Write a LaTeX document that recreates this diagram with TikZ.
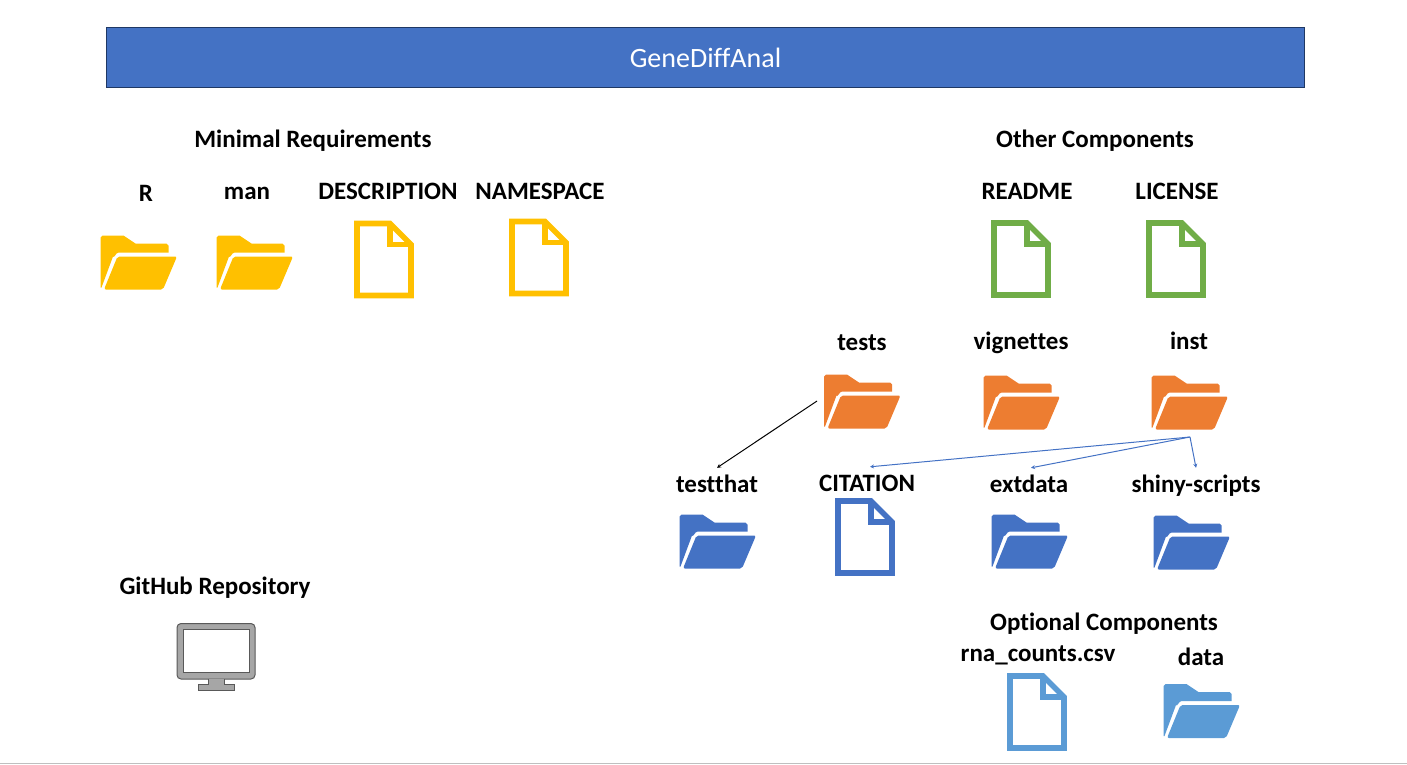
\documentclass[tikz,border=0pt]{standalone}
\usepackage{fontspec}
\setmainfont[Ligatures=NoCommon]{Carlito}
\definecolor{barblue}{HTML}{4472C4}
\definecolor{barline}{HTML}{1F3864}
\definecolor{minyellow}{HTML}{FFC000}
\definecolor{othergreen}{HTML}{70AD47}
\definecolor{otherorange}{HTML}{ED7D31}
\definecolor{optblue}{HTML}{5B9BD5}
\tikzset{
    itemtext/.style={font=\fontsize{25}{30}\selectfont\bfseries, inner xsep=0pt, inner ysep=10.5pt, text height=15pt, text depth=0pt},
    linkarrow/.style={-{Stealth[length=4pt, width=4pt]}, line width=1pt},
    folder/.pic={
        \fill[pic actions] (0,52) -- (0,2) to[out=-90, in=180] (2,0) -- (23,0) -- (35,8) -- (66,8)
            to[out=0, in=-90] (68,10) -- (68,17) -- (18,17) to[out=180, in=-70] (12.5,21) -- (1,52) -- cycle;
        \fill[pic actions, rounded corners=2pt] (17,21) -- (76.5,21) -- (62.5,54) -- (3.5,54) -- cycle;
    },
    docfile/.pic={
        \draw[pic actions, line width=5.6pt, miter limit=10] (3,3) -- (36,3) -- (57,24) -- (57,75) -- (3,75) -- cycle;
        \draw[pic actions, line width=5.6pt] (36,3) -- (36,24) -- (57,24);
    },
}
\usetikzlibrary{arrows.meta}
\begin{document}
\begin{tikzpicture}[x=1pt, y=-1pt]
    \useasboundingbox (0,0) rectangle (1407,764);
    \draw[black!25, line width=1pt] (0,763.5) -- (1407,763.5);

    \node[draw=barline, line width=1pt, fill=barblue, text=white, minimum width=1198pt, minimum height=60pt,
        font=\fontsize{28}{32}\selectfont] (title) at (705.5,57.5) {GeneDiffAnal};

    % minimal requirements
    \node[itemtext] (minimal) at (313,140) {Minimal Requirements};
    \node[itemtext] (rdir) at (146,194) {R};
    \node[itemtext] (man) at (247,192) {man};
    \node[itemtext] (description) at (388,192) {DESCRIPTION};
    \node[itemtext] (namespace) at (540,192) {NAMESPACE};
    \pic[color=minyellow] at (100.5,235.5) {folder};
    \pic[color=minyellow] at (216.5,235.5) {folder};
    \pic[color=minyellow] at (354,220.5) {docfile};
    \pic[color=minyellow] at (509,218.5) {docfile};

    % other components
    \node[itemtext] (other) at (1095,140) {Other Components};
    \node[itemtext] (readme) at (1027,192) {README};
    \node[itemtext] (license) at (1177,192) {LICENSE};
    \pic[color=othergreen] at (991,220) {docfile};
    \pic[color=othergreen] at (1146,220) {docfile};

    \node[itemtext] (tests) at (862,343) {tests};
    \node[itemtext] (vignettes) at (1021,342) {vignettes};
    \node[itemtext] (inst) at (1189,342) {inst};
    \pic[color=otherorange] at (824,374.5) {folder};
    \pic[color=otherorange] at (983.5,375.5) {folder};
    \pic[color=otherorange] at (1151.5,375.5) {folder};

    \node[itemtext] (testthat) at (717,485) {testthat};
    \node[itemtext] (citation) at (867,484) {CITATION};
    \node[itemtext] (extdata) at (1029,485) {extdata};
    \node[itemtext] (shiny) at (1196,485) {shiny-scripts};
    \pic[color=barblue] at (679.5,514.5) {folder};
    \pic[color=barblue] at (835,498) {docfile};
    \pic[color=barblue] at (991.5,514.5) {folder};
    \pic[color=barblue] at (1153.5,515.5) {folder};

    \coordinate (testsout) at (817,401);
    \coordinate (instout) at (1190,437);
    \draw[linkarrow, black] (testsout) -- ([yshift=-1pt]testthat.north);
    \draw[linkarrow, barblue] (instout) -- ([xshift=3pt,yshift=-1pt]citation.north);
    \draw[linkarrow, barblue] (instout) -- ([xshift=2pt,yshift=-1pt]extdata.north);
    \draw[linkarrow, barblue] (instout) -- ([yshift=-1pt]shiny.north);

    % optional components
    \node[itemtext] (optional) at (1104,623) {Optional Components};
    \node[itemtext] (rnacounts) at (1038,654) {rna\_counts.csv};
    \node[itemtext] (datadir) at (1201,658) {data};
    \pic[color=optblue] at (1007,673) {docfile};
    \pic[color=optblue] at (1163.5,684) {folder};

    % repository
    \node[itemtext] (github) at (215,587) {GitHub Repository};
    \draw[draw=black!65, fill=black!35, line width=1pt, rounded corners=4pt] (177,623.5) rectangle (255,679);
    \draw[draw=black!65, fill=white, line width=1pt] (183,629) rectangle (249.5,672.5);
    \draw[draw=black!65, fill=black!35, line width=1pt] (208.5,679) -- (208.5,684) -- (198,684) -- (198,690.5)
        -- (234,690.5) -- (234,684) -- (224.5,684) -- (224.5,679);
\end{tikzpicture}
\end{document}
